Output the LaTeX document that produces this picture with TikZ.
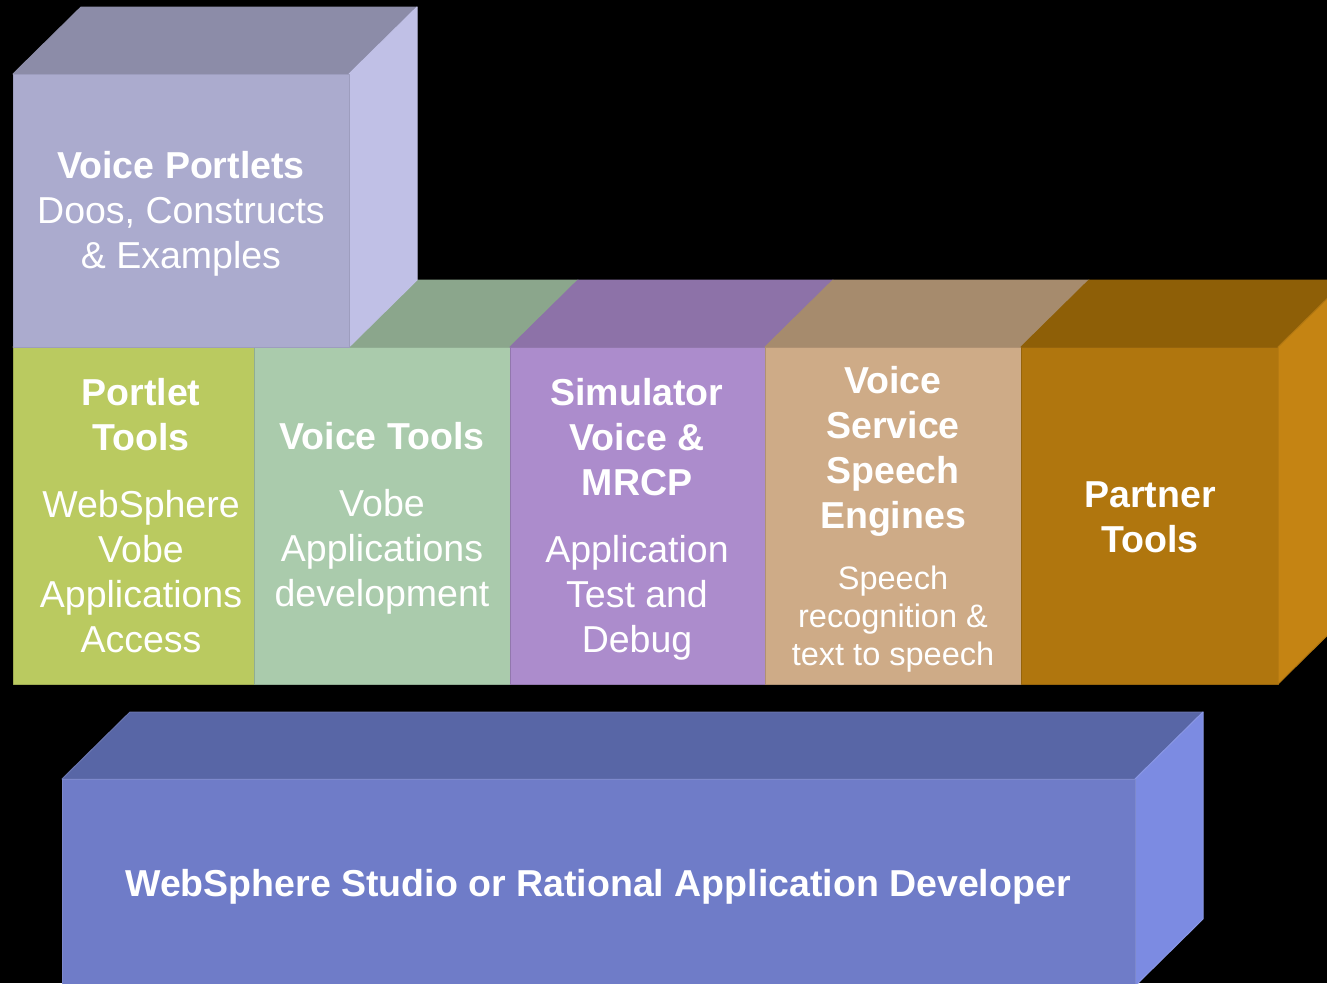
\documentclass[tikz,border=0pt]{standalone}
\usepackage{fontspec}
\setmainfont{Liberation Sans}

\definecolor{portletsfront}{RGB}{171,171,206}
\definecolor{portletstop}{RGB}{140,140,168}
\definecolor{portletsside}{RGB}{192,192,230}
\definecolor{ptoolsfront}{RGB}{186,202,96}
\definecolor{ptoolstop}{RGB}{150,165,78}
\definecolor{vtoolsfront}{RGB}{170,203,172}
\definecolor{vtoolstop}{RGB}{139,166,140}
\definecolor{simfront}{RGB}{172,140,204}
\definecolor{simtop}{RGB}{141,114,168}
\definecolor{vservfront}{RGB}{206,171,135}
\definecolor{vservtop}{RGB}{166,139,109}
\definecolor{partnerfront}{RGB}{176,118,14}
\definecolor{partnertop}{RGB}{142,95,7}
\definecolor{partnerside}{RGB}{197,132,19}
\definecolor{studiofront}{RGB}{111,124,200}
\definecolor{studiotop}{RGB}{88,102,166}
\definecolor{studioside}{RGB}{124,139,226}

\newcommand{\hd}[1]{{\bfseries\fontsize{37.5}{45}\selectfont #1}}
\newcommand{\sm}[1]{{\fontsize{32.5}{38}\selectfont #1}}

\begin{document}
\begin{tikzpicture}[x=1pt,y=-1pt]
        \tikzset{face/.style = {line width=1pt, line join=round}}
        \tikzset{blocktext/.style = {text=white, align=center, inner sep=0pt,
                 font=\fontsize{37.5}{45}\selectfont}}
        \useasboundingbox (0,0) rectangle (1327,983);
        \clip (0,0) rectangle (1327,983);
        \fill[black] (0,0) rectangle (1327,983);
        % base box
        \filldraw[face, fill=studiotop, draw=studiotop!90!white] (62,779) -- ++(68,-67) -- (1203,712) -- (1135,779) -- cycle;
        \filldraw[face, fill=studioside, draw=studioside!90!white] (1135,779) -- (1203,712) -- (1203,919) -- (1135,986) -- cycle;
        \filldraw[face, fill=studiofront, draw=studiofront!90!white] (62,779) rectangle (1135,986);
        % row of columns
        \foreach \xa/\xb/\c in {13/254/ptools, 254/510/vtools, 510/765/sim, 765/1021/vserv, 1021/1278/partner}{
          \filldraw[face, fill=\c top, draw=\c top] (\xa,347) -- ++(68,-67) -- (\xb+68,280) -- (\xb,347) -- cycle;
          \filldraw[face, fill=\c front, draw=\c front!85!black] (\xa,347) rectangle (\xb,684);
        }
        \filldraw[face, fill=partnerside, draw=partnerside!90!black] (1278,347) -- (1346,280) -- (1346,617) -- (1278,684) -- cycle;
        % top box
        \filldraw[face, fill=portletstop, draw=portletstop] (13,74) -- (81,7) -- (417,7) -- (349,74) -- cycle;
        \filldraw[face, fill=portletsside, draw=portletsside] (349,74) -- (417,7) -- (417,280) -- (349,347) -- cycle;
        \filldraw[face, fill=portletsfront, draw=portletsfront!92!black] (13,74) rectangle (349,347);
        % labels
        \node[blocktext] (portlets) at (181,214) {\hd{Voice Portlets}\\Doos, Constructs\\\& Examples};
        \node[blocktext] (ptools) at (141,516) {\hd{Portlet}\\\hd{Tools}\\[22pt]WebSphere\\Vobe\\Applications\\Access};
        \node[blocktext] (vtools) at (382,518) {\hd{Voice Tools}\\[22pt]Vobe\\Applications\\development};
        \node[blocktext] (sim) at (637,519) {\hd{Simulator}\\\hd{Voice \&}\\\hd{MRCP}\\[22pt]Application\\Test and\\Debug};
        \node[blocktext] (vserv) at (893,519) {\hd{Voice}\\\hd{Service}\\\hd{Speech}\\\hd{Engines}\\[16pt]%
          \sm{Speech}\\[-7pt]\sm{recognition \&}\\[-7pt]\sm{text to speech}};
        \node[blocktext] (partner) at (1150,517) {\hd{Partner}\\\hd{Tools}};
        \node[blocktext] (studio) at (598,887) {\hd{WebSphere Studio or Rational Application Developer}};
\end{tikzpicture}
\end{document}
